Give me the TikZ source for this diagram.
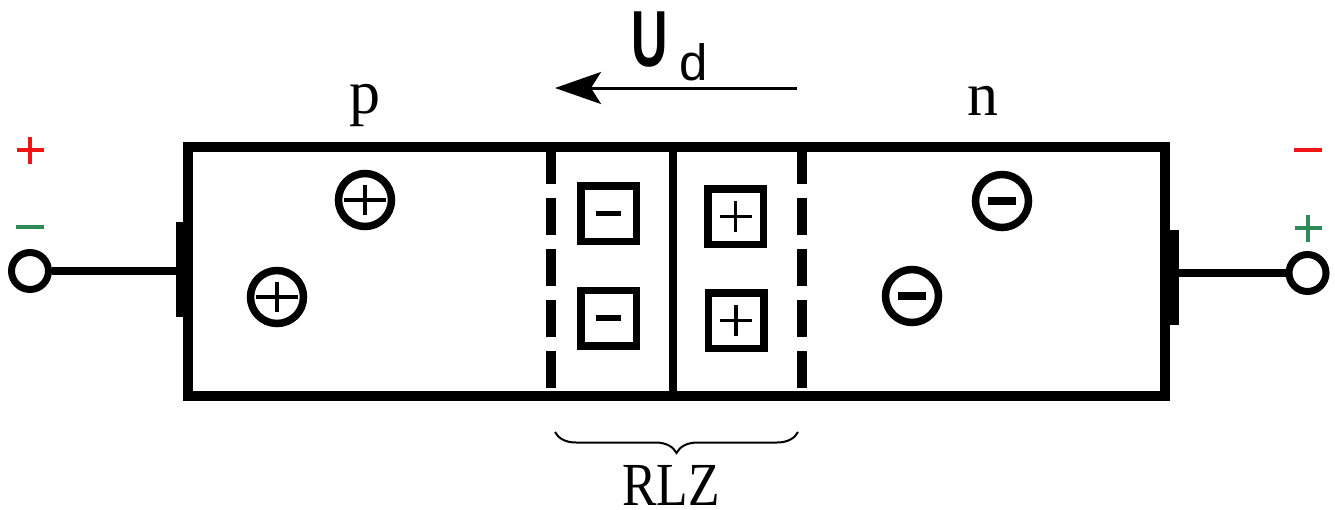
\documentclass[tikz,border=0pt]{standalone}
\usepackage{fontspec}
\setmainfont{Liberation Serif}
\newfontfamily\sansf{Liberation Sans}
\usetikzlibrary{arrows.meta,decorations.pathreplacing}
\definecolor{signred}{RGB}{240,20,20}
\definecolor{signgreen}{RGB}{46,139,87}
\tikzset{
  wall/.style={line width=9.5pt},
  dashwall/.style={line width=9.5pt, dash pattern=on 37pt off 14pt},
  midwall/.style={line width=7.5pt},
  ioncirc/.style={draw, circle, line width=7.5pt, minimum size=53pt, inner sep=0pt},
  ionsq/.style={draw, rectangle, line width=7.5pt, minimum size=55.5pt, inner sep=0pt},
  thinsign/.style={line width=3.5pt},
  thicksign/.style={line width=8.5pt},
  sqminus/.style={line width=5.5pt},
  contact/.style={draw, circle, fill=white, line width=7pt, minimum size=37pt, inner sep=0pt},
  bar/.style={fill=black, inner sep=0pt, minimum height=95pt},
  wire/.style={line width=8pt},
  pol/.style={line width=3.5pt},
  lbl/.style={inner sep=0pt, anchor=base},
}
\begin{document}
\begin{tikzpicture}[x=1pt,y=-1pt]
\useasboundingbox (0,0) rectangle (1335,509);

% main body
\node[draw, wall, minimum width=977pt, minimum height=249pt, inner sep=0pt] (diode) at (676.5,271.5) {};
\draw[dashwall] (551,147) -- (551,396);
\draw[dashwall] (802,147) -- (802,396);
\draw[midwall] (673,147) -- (673,396);

% contacts
\node[bar, minimum width=16pt] (barL) at (184,269.5) {};
\node[bar, minimum width=18pt] (barR) at (1170,277.5) {};
\node[contact] (cL) at (30,271) {};
\node[contact] (cR) at (1307.5,273) {};
\draw[wire] (cL.east) -- (cL.east -| barL.center);
\draw[wire] (cR.west) -- (cR.west -| barR.center);

% polarity marks
\draw[pol, signred] (16.5,150) -- (43.5,150) (30,136.5) -- (30,163.5);
\draw[pol, signgreen] (16,227) -- (44,227);
\draw[pol, signred] (1294,150) -- (1322,150);
\draw[pol, signgreen] (1294.5,228) -- (1321.5,228) (1308,214.5) -- (1308,241.5);

% holes in p region
\node[ioncirc] (h1) at (365,200) {};
\node[ioncirc] (h2) at (277,297) {};
\foreach \h in {h1,h2}{
  \draw[thinsign] (\h.center) ++(-21,0) -- ++(42,0);
  \draw[thinsign] (\h.center) ++(0,-15) -- ++(0,30);
}
% electrons in n region
\node[ioncirc] (e1) at (1002,201) {};
\node[ioncirc] (e2) at (912,296) {};
\foreach \e in {e1,e2}{
  \draw[thicksign] (\e.center) ++(-14,0) -- ++(28,0);
}

% fixed ions in the depletion zone
\node[ionsq] (a1) at (608.5,213.5) {};
\node[ionsq] (a2) at (608.5,318) {};
\node[ionsq] (d1) at (735.5,216.5) {};
\node[ionsq] (d2) at (736,320.5) {};
\foreach \a in {a1,a2}{
  \draw[sqminus] (\a.center) ++(-12.5,0) -- ++(25,0);
}
\foreach \d in {d1,d2}{
  \draw[thinsign] (\d.center) ++(-16,0) -- ++(32,0);
  \draw[thinsign] (\d.center) ++(0,-15.5) -- ++(0,31);
}

% labels
\node[lbl, font=\fontsize{62}{62}\selectfont] (pl) at (365,113.5) {p};
\node[lbl, font=\fontsize{62}{62}\selectfont] (nl) at (983,115) {n};

% U_d arrow
\coordinate (ua) at (797,88);
\coordinate (ub) at (555,88);
\draw[line width=3pt, -{Stealth[length=46pt, width=32pt, inset=10pt]}] (ua) -- (ub);
\node[lbl, font=\sansf\fontsize{56}{56}\selectfont] (U) at (650,66) {\scalebox{0.9}[1.42]{\textbf{U}}};
\node[lbl, font=\sansf\fontsize{51}{51}\selectfont] (Ud) at (694,80) {d};

% brace
\coordinate (br) at (798,432);
\coordinate (bl) at (555,432);
\draw[line width=2pt, decorate, decoration={brace, amplitude=21pt}] (br) -- (bl);
\node[lbl, font=\fontsize{60}{60}\selectfont] (rlz) at (671,505) {\scalebox{0.86}[1.02]{RLZ}};
\end{tikzpicture}
\end{document}
